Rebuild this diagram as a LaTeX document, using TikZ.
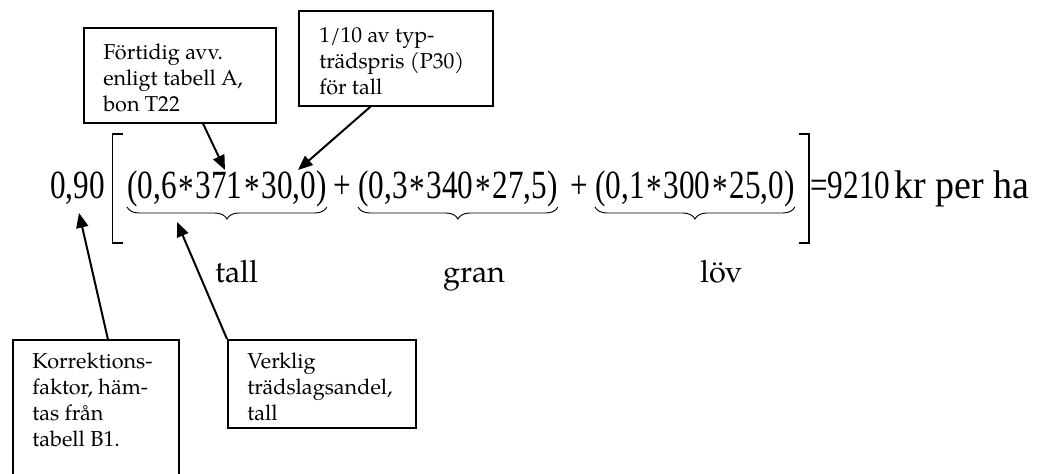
\documentclass[tikz,border=0pt]{standalone}
\usepackage{fontspec}
\setmainfont{Liberation Serif}
\newfontfamily\eqf[FakeStretch=0.78]{Liberation Serif}
\newfontfamily\eqg[FakeStretch=0.95]{Liberation Serif}
\newfontfamily\pal{TeX Gyre Pagella}
\usetikzlibrary{arrows.meta,decorations.pathreplacing,calc}
\newcommand\st{\kern1.3pt\raisebox{-2.5pt}{*}\kern1.3pt}
\newcommand\fl{\rule{0pt}{16pt}}
\tikzset{
  box/.style={draw, line width=1.2pt, inner sep=0pt, anchor=north west},
  btxt/.style={inner sep=0pt, anchor=north west, align=left, font=\pal\fontsize{16.2}{19.5}\selectfont},
  eq/.style={inner sep=0pt, anchor=base west, font=\eqf\fontsize{30}{36}\selectfont},
  lbl/.style={inner sep=0pt, anchor=base west, font=\pal\fontsize{23}{27}\selectfont},
  arr/.style={line width=1.5pt, -{Triangle[length=11pt,width=9pt]}},
  brk/.style={line width=0.8pt},
  brc/.style={line width=0.7pt, decorate, decoration={brace, mirror, amplitude=9pt}},
}
\begin{document}
\begin{tikzpicture}[x=0.75pt, y=-0.75pt]
\useasboundingbox (0,0) rectangle (1040,474);
\clip (0,0) rectangle (1040,474);
% boxes
\node[box, minimum width=144pt, minimum height=71.25pt] (b1) at (83,27) {};
\node[box, minimum width=145.5pt, minimum height=71.25pt] (b2) at (298,10) {};
\node[box, minimum width=124.5pt, minimum height=120pt] (kr) at (12,339) {};
\node[box, minimum width=141pt, minimum height=66pt] (vk) at (227,339) {};
\node[btxt] (b1t) at ($(b1.north west)+(20,11)$) {\fl Förtidig avv.\\enligt tabell A,\\bon T22};
\node[btxt] (b2t) at ($(b2.north west)+(21,11)$) {\fl 1/10 av typ-\\trädspris (P30)\\för tall};
\node[btxt] (krt) at ($(kr.north west)+(20,8)$) {\fl Korrektions-\\faktor, häm-\\tas från\\tabell B1.};
\node[btxt] (vkt) at ($(vk.north west)+(20,8)$) {\fl Verklig\\trädslagsandel,\\tall};
% formula
\node[eq] (k) at (50,199) {0,90};
\node[eq] (g1) at (127,199) {(0,6\st371\st30,0)};
\node[eq] (p1) at (333,199) {+};
\node[eq] (g2) at (358,199) {(0,3\st340\st27,5)};
\node[eq] (p2) at (570,199) {+};
\node[eq] (g3) at (595,199) {(0,1\st300\st25,0)};
\node[eq] (res) at (810,199) {=9210\kern3pt{\eqg kr per ha}};
% brackets
\draw[brk] (123,134) -- (112.7,134) -- (112.7,243) -- (123,243);
\draw[brk] (799,134) -- (809,134) -- (809,243) -- (799,243);
% braces
\draw[brc] ($(g1.base west)+(0,8)$) -- ($(g1.base east)+(0,8)$);
\draw[brc] ($(g2.base west)+(0,8)$) -- ($(g2.base east)+(0,8)$);
\draw[brc] ($(g3.base west)+(0,8)$) -- ($(g3.base east)+(0,8)$);
% labels
\node[lbl] (l1) at (215,282) {tall};
\node[lbl] (l2) at (443,282) {gran};
\node[lbl] (l3) at (700,282) {löv};
% arrows
\coordinate (t1) at (225,170);
\coordinate (t2) at (298,170);
\coordinate (t3) at (79,213);
\coordinate (t4) at (177,222);
\draw[arr] ($(b1.south west)!0.62!(b1.south east)$) -- (t1);
\draw[arr] ($(b2.south west)!0.371!(b2.south east)$) -- (t2);
\draw[arr] ($(kr.north west)!0.572!(kr.north east)$) -- (t3);
\draw[arr] (vk.north west) -- (t4);
\end{tikzpicture}
\end{document}
